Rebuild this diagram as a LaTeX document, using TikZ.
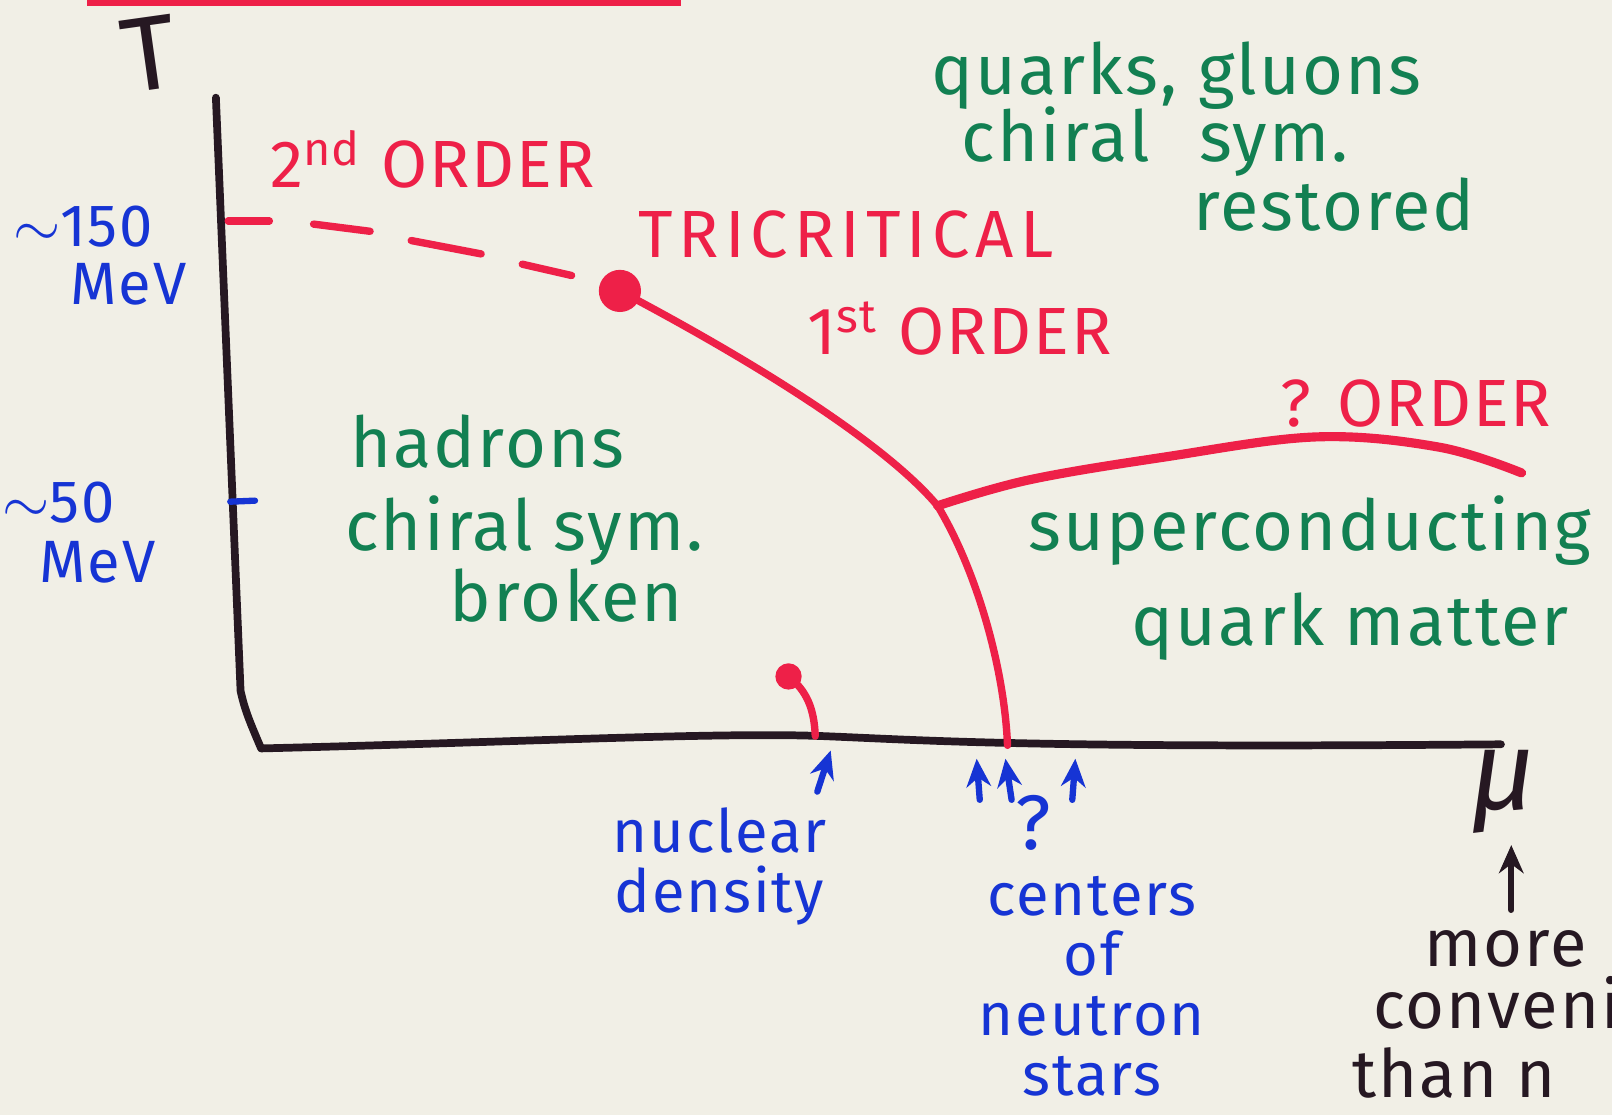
\documentclass[tikz,border=0pt]{standalone}
\usepackage{fontspec}
\setmainfont{Fira Sans}
\newfontfamily\markerfont[LetterSpace=3]{Fira Sans}
\newfontfamily\widefont[LetterSpace=9]{Fira Sans}
\usetikzlibrary{arrows.meta,positioning}

\definecolor{paper}{RGB}{241,239,230}
\definecolor{markred}{RGB}{238,32,72}
\definecolor{markgreen}{RGB}{18,128,82}
\definecolor{markblue}{RGB}{22,52,212}
\definecolor{markblack}{RGB}{38,24,34}

\tikzset{
  axis/.style = {draw=markblack, line width=2.2pt, line cap=round, line join=round},
  phase/.style = {draw=markred, line width=2.1pt, line cap=round},
  pointer/.style = {line width=1.8pt, line cap=round, -{Stealth[length=8pt,width=7pt]}},
  redlabel/.style = {text=markred, font=\fontsize{19}{19}\markerfont, inner sep=0pt, anchor=base west},
  greenlabel/.style = {text=markgreen, font=\fontsize{20}{20}\markerfont, inner sep=0pt, anchor=base west},
  bluelabel/.style = {text=markblue, font=\fontsize{17}{17}\markerfont, inner sep=0pt, align=center},
  blacklabel/.style = {text=markblack, font=\fontsize{19}{19}\markerfont, inner sep=0pt, anchor=base west},
  dot/.style = {circle, fill=markred, inner sep=0pt}
}

\begin{document}
\begin{tikzpicture}[x=0.01028cm, y=-0.01028cm]
    \useasboundingbox (0,0) rectangle (1568,1085);
    \fill[paper] (0,0) rectangle (1568,1085);
    \clip (0,0) rectangle (1568,1085);
    \fill[markred] (85,-10) rectangle (662,6);

    % axes
    \coordinate (top) at (210,95);
    \coordinate (origin) at (254,728);
    \coordinate (right) at (1460,724);
    \draw[axis] (top) -- (234,672) .. controls (238,690) and (242,700) .. (origin)
        .. controls (500,722) and (700,712) .. (800,716)
        .. controls (900,720) and (1000,728) .. (right);
    \node[text=markblack, font=\fontsize{30}{30}\selectfont, inner sep=0pt, rotate=8] (T) at (145,52) {T};
    \node[text=markblack, font=\fontsize{32}{32}\selectfont\itshape, inner sep=0pt] (mu) at (1462,770) {μ};

    % phase lines
    \node[dot, minimum size=12pt] (tc) at (603,283) {};
    \node[dot, minimum size=7.5pt] (lg) at (767,658) {};
    \coordinate (nd) at (793,716);
    \coordinate (ns) at (980,725);
    \coordinate (branch) at (912,492);
    \coordinate (qend) at (1480,460);

    \foreach \xa/\ya/\xb/\yb in {222/215/262/215, 305/218/360/225, 400/234/468/247, 508/257/556/268}
        \draw[phase] (\xa,\ya) -- (\xb,\yb);
    \draw[phase] (tc.center) .. controls (730,350) and (860,430) .. (branch)
        .. controls (950,555) and (977,650) .. (ns);
    \draw[phase, line width=2.6pt] plot[smooth, tension=0.6] coordinates {(branch) (1000,467) (1130,445) (1280,425) (1400,435) (qend)};
    \draw[phase] (lg.center) .. controls (785,672) and (792,690) .. (nd);

    \node[redlabel] (second) at (262,182) {2\textsuperscript{nd} ORDER};
    \node[redlabel, font=\fontsize{19}{19}\widefont] (tricrit) at (620,250) {TRICRITICAL};
    \node[redlabel] (first) at (785,345) {1\textsuperscript{st} ORDER};
    \node[redlabel] (unknown) at (1245,415) {? ORDER};

    % phases
    \node[greenlabel] (qg) at (905,92) {quarks, gluons};
    \node[greenlabel] (qgsym) at (935,157) {chiral\hspace{14pt}sym.};
    \node[greenlabel] (qgrest) at (1160,224) {restored};
    \node[greenlabel] (had) at (340,455) {hadrons};
    \node[greenlabel] (hadsym) at (335,535) {chiral sym.};
    \node[greenlabel] (hadbroken) at (437,605) {broken};
    \node[greenlabel] (sc) at (1000,535) {superconducting};
    \node[greenlabel] (qm) at (1100,628) {quark matter};

    % scales
    \node[bluelabel, anchor=base west] (t150) at (12,240) {$\sim$150};
    \node[bluelabel, anchor=base west] (t150u) at (68,296) {MeV};
    \node[bluelabel, anchor=base west] (t50) at (2,508) {$\sim$50};
    \node[bluelabel, anchor=base west] (t50u) at (38,567) {MeV};
    \draw[markblue, line width=1.8pt, line cap=round] (224,488) -- (248,487);

    \node[bluelabel, anchor=north] (nuc) at (700,785) {nuclear\\density};
    \node[bluelabel, anchor=north] (stars) at (1062,852) {centers\\of\\neutron\\stars};
    \node[bluelabel, font=\fontsize{22}{22}\markerfont] (ask) at (1005,800) {?};
    \coordinate (nuctail) at (795,770);
    \coordinate (nuchead) at (808,730);
    \draw[pointer, markblue] (nuctail) -- (nuchead);
    \foreach \xa/\xb in {953/950, 984/978, 1043/1046}
        \draw[pointer, markblue] (\xa,778) -- (\xb,738);

    \node[blacklabel] (more) at (1385,940) {more};
    \node[blacklabel] (conv) at (1335,1000) {convenient};
    \node[blacklabel] (than) at (1315,1068) {than n};
    \coordinate (mutail) at (1470,885);
    \coordinate (muhead) at (1470,822);
    \draw[pointer, markblack] (mutail) -- (muhead);
\end{tikzpicture}
\end{document}
